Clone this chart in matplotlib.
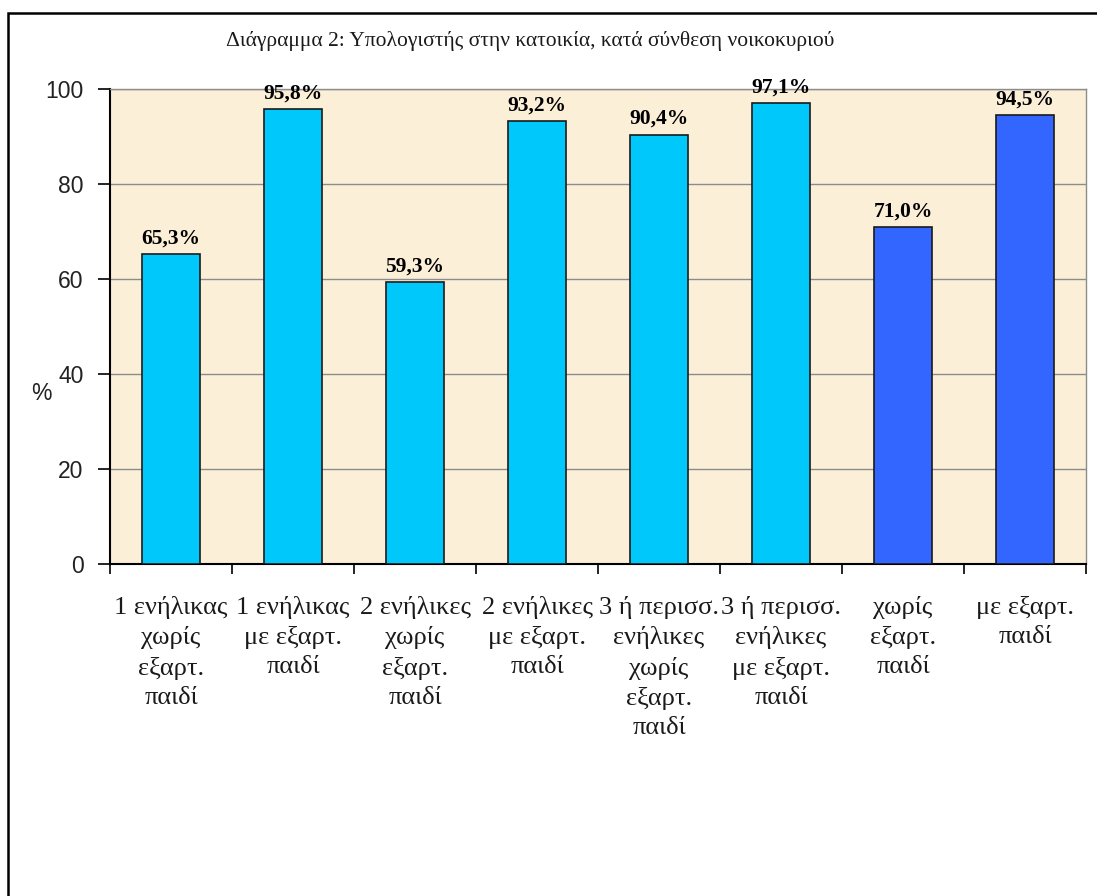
import numpy as np
import matplotlib
matplotlib.use("Agg")
import matplotlib.pyplot as plt
from matplotlib.patches import Rectangle

# Data
categories = [
    "1 ενήλικας\nχωρίς\nεξαρτ.\nπαιδί",
    "1 ενήλικας\nμε εξαρτ.\nπαιδί",
    "2 ενήλικες\nχωρίς\nεξαρτ.\nπαιδί",
    "2 ενήλικες\nμε εξαρτ.\nπαιδί",
    "3 ή περισσ.\nενήλικες\nχωρίς\nεξαρτ.\nπαιδί",
    "3 ή περισσ.\nενήλικες\nμε εξαρτ.\nπαιδί",
    "χωρίς\nεξαρτ.\nπαιδί",
    "με εξαρτ.\nπαιδί",
]
values = [65.3, 95.8, 59.3, 93.2, 90.4, 97.1, 71.0, 94.5]
groups = ["light", "light", "light", "light", "light", "light", "dark", "dark"]
title = "Διάγραμμα 2: Υπολογιστής στην κατοικία, κατά σύνθεση νοικοκυριού"
yticks = [0, 20, 40, 60, 80, 100]

COLORS = {"light": "#00C8FA", "dark": "#3366FF"}
SERIF = ["Liberation Serif", "DejaVu Serif"]
SANS = ["Liberation Sans", "DejaVu Sans"]

fig = plt.figure(figsize=(10.97, 8.96), dpi=100)
fig.patch.set_facecolor("white")

# outer frame (cut off at right and bottom like the source)
fig.patches.append(Rectangle((8 / 1097, -0.05), 1.2, 0.05 + (896 - 13) / 896,
                             transform=fig.transFigure, fill=False,
                             edgecolor="black", linewidth=1.8))

ax = fig.add_axes([110 / 1097, 1 - 564 / 896, (1086 - 110) / 1097, (564 - 89) / 896])
ax.set_facecolor("#FBEFD8")

x = np.arange(len(values)) + 0.5
bar_colors = [COLORS[g] for g in groups]
bars = ax.bar(x, values, width=0.48, color=bar_colors, edgecolor="#1a1a1a",
              linewidth=1.2, zorder=3)

for xi, v in zip(x, values):
    ax.annotate(f"{v:.1f}%".replace(".", ","), (xi, v), xytext=(0, 4),
                textcoords="offset points", ha="center", va="bottom",
                fontsize=15.5, fontweight="bold", family=SERIF, zorder=4)

ax.set_xlim(0, len(values))
ax.set_ylim(0, 100)
ax.set_yticks(yticks)
ax.set_yticklabels([str(t) for t in yticks], family=SANS, fontsize=16.5, color="#222222")
ax.yaxis.grid(True, color="#8c8c8c", linewidth=1.0, zorder=1)
ax.set_axisbelow(True)

ax.set_xticks(np.arange(len(values) + 1))
ax.set_xticklabels([])
ax.set_xticks(x, minor=True)
ax.set_xticklabels(categories, minor=True, family=SERIF, fontsize=19,
                   linespacing=1.41, color="#1a1a1a")
ax.tick_params(axis="x", which="major", direction="out", length=7, width=1.2)
ax.tick_params(axis="x", which="minor", length=0, pad=23)
ax.tick_params(axis="y", direction="out", length=9, width=1.2, pad=10)

for side in ["left", "bottom"]:
    ax.spines[side].set_color("black")
    ax.spines[side].set_linewidth(1.5)
for side in ["top", "right"]:
    ax.spines[side].set_color("#8c8c8c")
    ax.spines[side].set_linewidth(1.0)

fig.text(41 / 1097, 1 - 393 / 896, "%", family=SANS, fontsize=16.5,
         ha="center", va="center", color="#222222")
fig.text(530 / 1097, 1 - 41 / 896, title, family=SERIF, fontsize=15.5,
         ha="center", va="center", color="#1a1a1a")

fig.savefig("out.png", dpi=100, facecolor="white")
